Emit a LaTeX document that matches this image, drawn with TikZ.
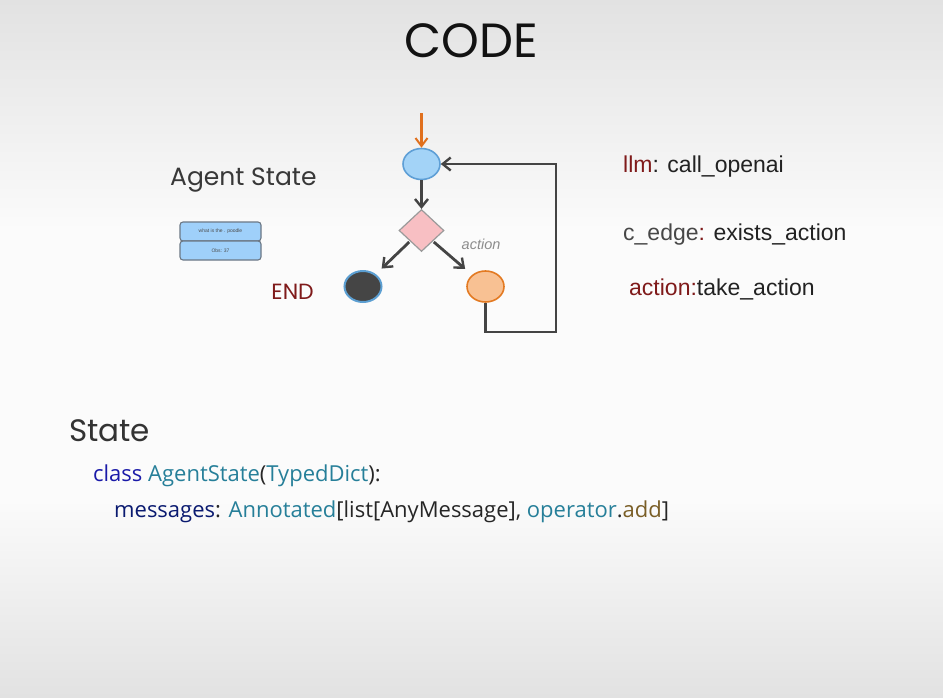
\documentclass[tikz,border=0pt]{standalone}
\usepackage{fontspec}
\setmainfont{Liberation Sans}
\newfontfamily\popfont{Poppins}
\newfontfamily\codefont{Open Sans}
\usetikzlibrary{shapes.geometric,arrows.meta}

\definecolor{bgedge}{HTML}{E2E2E2}
\definecolor{bgmid}{HTML}{FBFBFB}
\definecolor{flowline}{HTML}{444444}
\definecolor{startorange}{HTML}{E0701E}
\definecolor{llmfill}{HTML}{A3D3F7}
\definecolor{llmdraw}{HTML}{5E9FD6}
\definecolor{diafill}{HTML}{F8BFC3}
\definecolor{diadraw}{HTML}{9A9A9A}
\definecolor{endfill}{HTML}{454545}
\definecolor{enddraw}{HTML}{5C9FD2}
\definecolor{actfill}{HTML}{F8C193}
\definecolor{actdraw}{HTML}{E37A22}
\definecolor{boxfill}{HTML}{9FD0FA}
\definecolor{boxdraw}{HTML}{6B7784}
\definecolor{darkred}{HTML}{7F1A1A}
\definecolor{labelink}{HTML}{222222}
\definecolor{kwblue}{HTML}{1A1AA8}
\definecolor{typeteal}{HTML}{267F99}
\definecolor{varnavy}{HTML}{0A1A70}
\definecolor{funcbrown}{HTML}{7A5E26}

\tikzset{
  x=1pt, y=-1pt,
  flow/.style={draw=flowline, line width=2.8pt, -{Straight Barb[length=8pt,width=13pt,line width=2.4pt]}},
  stateoval/.style={ellipse, minimum width=37pt, minimum height=31pt, inner sep=0pt, line width=1.6pt},
  memo/.style={draw=boxdraw, fill=boxfill, rounded corners=3pt, line width=1.1pt,
    minimum width=81pt, minimum height=19pt, inner sep=0pt, font=\fontsize{5}{6}\selectfont, text=black!70},
  rlabel/.style={anchor=base west, inner sep=0pt, font=\fontsize{23}{26}\selectfont, text=labelink},
  codeline/.style={anchor=base west, inner sep=0pt, font=\codefont\fontsize{22}{25}\selectfont, text=black!85},
}

\begin{document}
\begin{tikzpicture}
  % page background with soft grey top and bottom
  \useasboundingbox (0,0) rectangle (943,697);
  \shade[top color=bgedge, bottom color=bgmid] (0,0) rectangle (943,230);
  \fill[bgmid] (0,229.5) rectangle (943,500);
  \shade[top color=bgmid, bottom color=bgedge] (0,499.5) rectangle (943,697);

  % headings
  \node[anchor=base, inner sep=0pt, font=\popfont\fontsize{48}{54}\selectfont, text=black!93] (title) at (471,57) {CODE};
  \node[anchor=base west, inner sep=0pt, font=\popfont\fontsize{25}{30}\selectfont, text=black!78] (agentstate) at (170,185) {Agent State};

  % agent state memory cells
  \node[memo] (msg1) at (220.5,231.5) {what is the . poodle};
  \node[memo] (msg2) at (220.5,250.5) {Obs: 37};

  % graph nodes
  \coordinate (entry) at (421.5,113);
  \node[stateoval, draw=llmdraw, fill=llmfill] (llm) at (421.5,164) {};
  \node[diamond, draw=diadraw, fill=diafill, line width=1.2pt, minimum width=45pt, minimum height=42pt, inner sep=0pt] (cedge) at (421.5,230.5) {};
  \node[stateoval, draw=enddraw, fill=endfill, line width=2pt] (endnode) at (363,286.5) {};
  \node[stateoval, draw=actdraw, fill=actfill] (act) at (485.5,286.5) {};
  \node[anchor=base east, inner sep=0pt, font=\popfont\fontsize{22}{26}\selectfont, text=darkred] (endlabel) at (314,299) {END};
  \node[anchor=base west, inner sep=0pt, font=\itshape\fontsize{14.5}{16}\selectfont, text=black!45] (actionlabel) at (461.5,249) {action};

  % loop corners
  \coordinate (loopbl) at (485.5,332);
  \coordinate (loopbr) at (556,332);

  % edges
  \draw[draw=startorange, line width=2.2pt, -{Straight Barb[length=8pt,width=12pt,line width=2pt]}] (entry) -- (llm.north);
  \draw[flow] (llm.south) -- (cedge.north);
  \draw[flow, shorten <=1pt, shorten >=8pt] (cedge.south west) -- (endnode);
  \draw[flow, shorten <=1pt, shorten >=9pt] (cedge.south east) -- (act);
  \draw[flow] (act.south) -- (loopbl) -- (loopbr) |- (llm.east);

  % node legend
  \node[rlabel] (lgllm) at (623,172) {\textcolor{darkred}{llm}: call\_openai};
  \node[rlabel] (lgedge) at (623,240) {\textcolor{black!72}{c\_edge}\textcolor{darkred}{:} exists\_action};
  \node[rlabel] (lgact) at (629,295) {\textcolor{darkred}{action:}take\_action};

  % state definition
  \node[anchor=base west, inner sep=0pt, font=\popfont\fontsize{31}{34}\selectfont, text=black!80] (statehead) at (69,441) {State};
  \node[codeline] (code1) at (93,481.5) {\textcolor{kwblue}{class} \textcolor{typeteal}{AgentState}(\textcolor{typeteal}{TypedDict}):};
  \node[codeline] (code2) at (114,517) {\textcolor{varnavy}{messages}: \textcolor{typeteal}{Annotated}[list[AnyMessage], \textcolor{typeteal}{operator}.\textcolor{funcbrown}{add}]};
\end{tikzpicture}
\end{document}
